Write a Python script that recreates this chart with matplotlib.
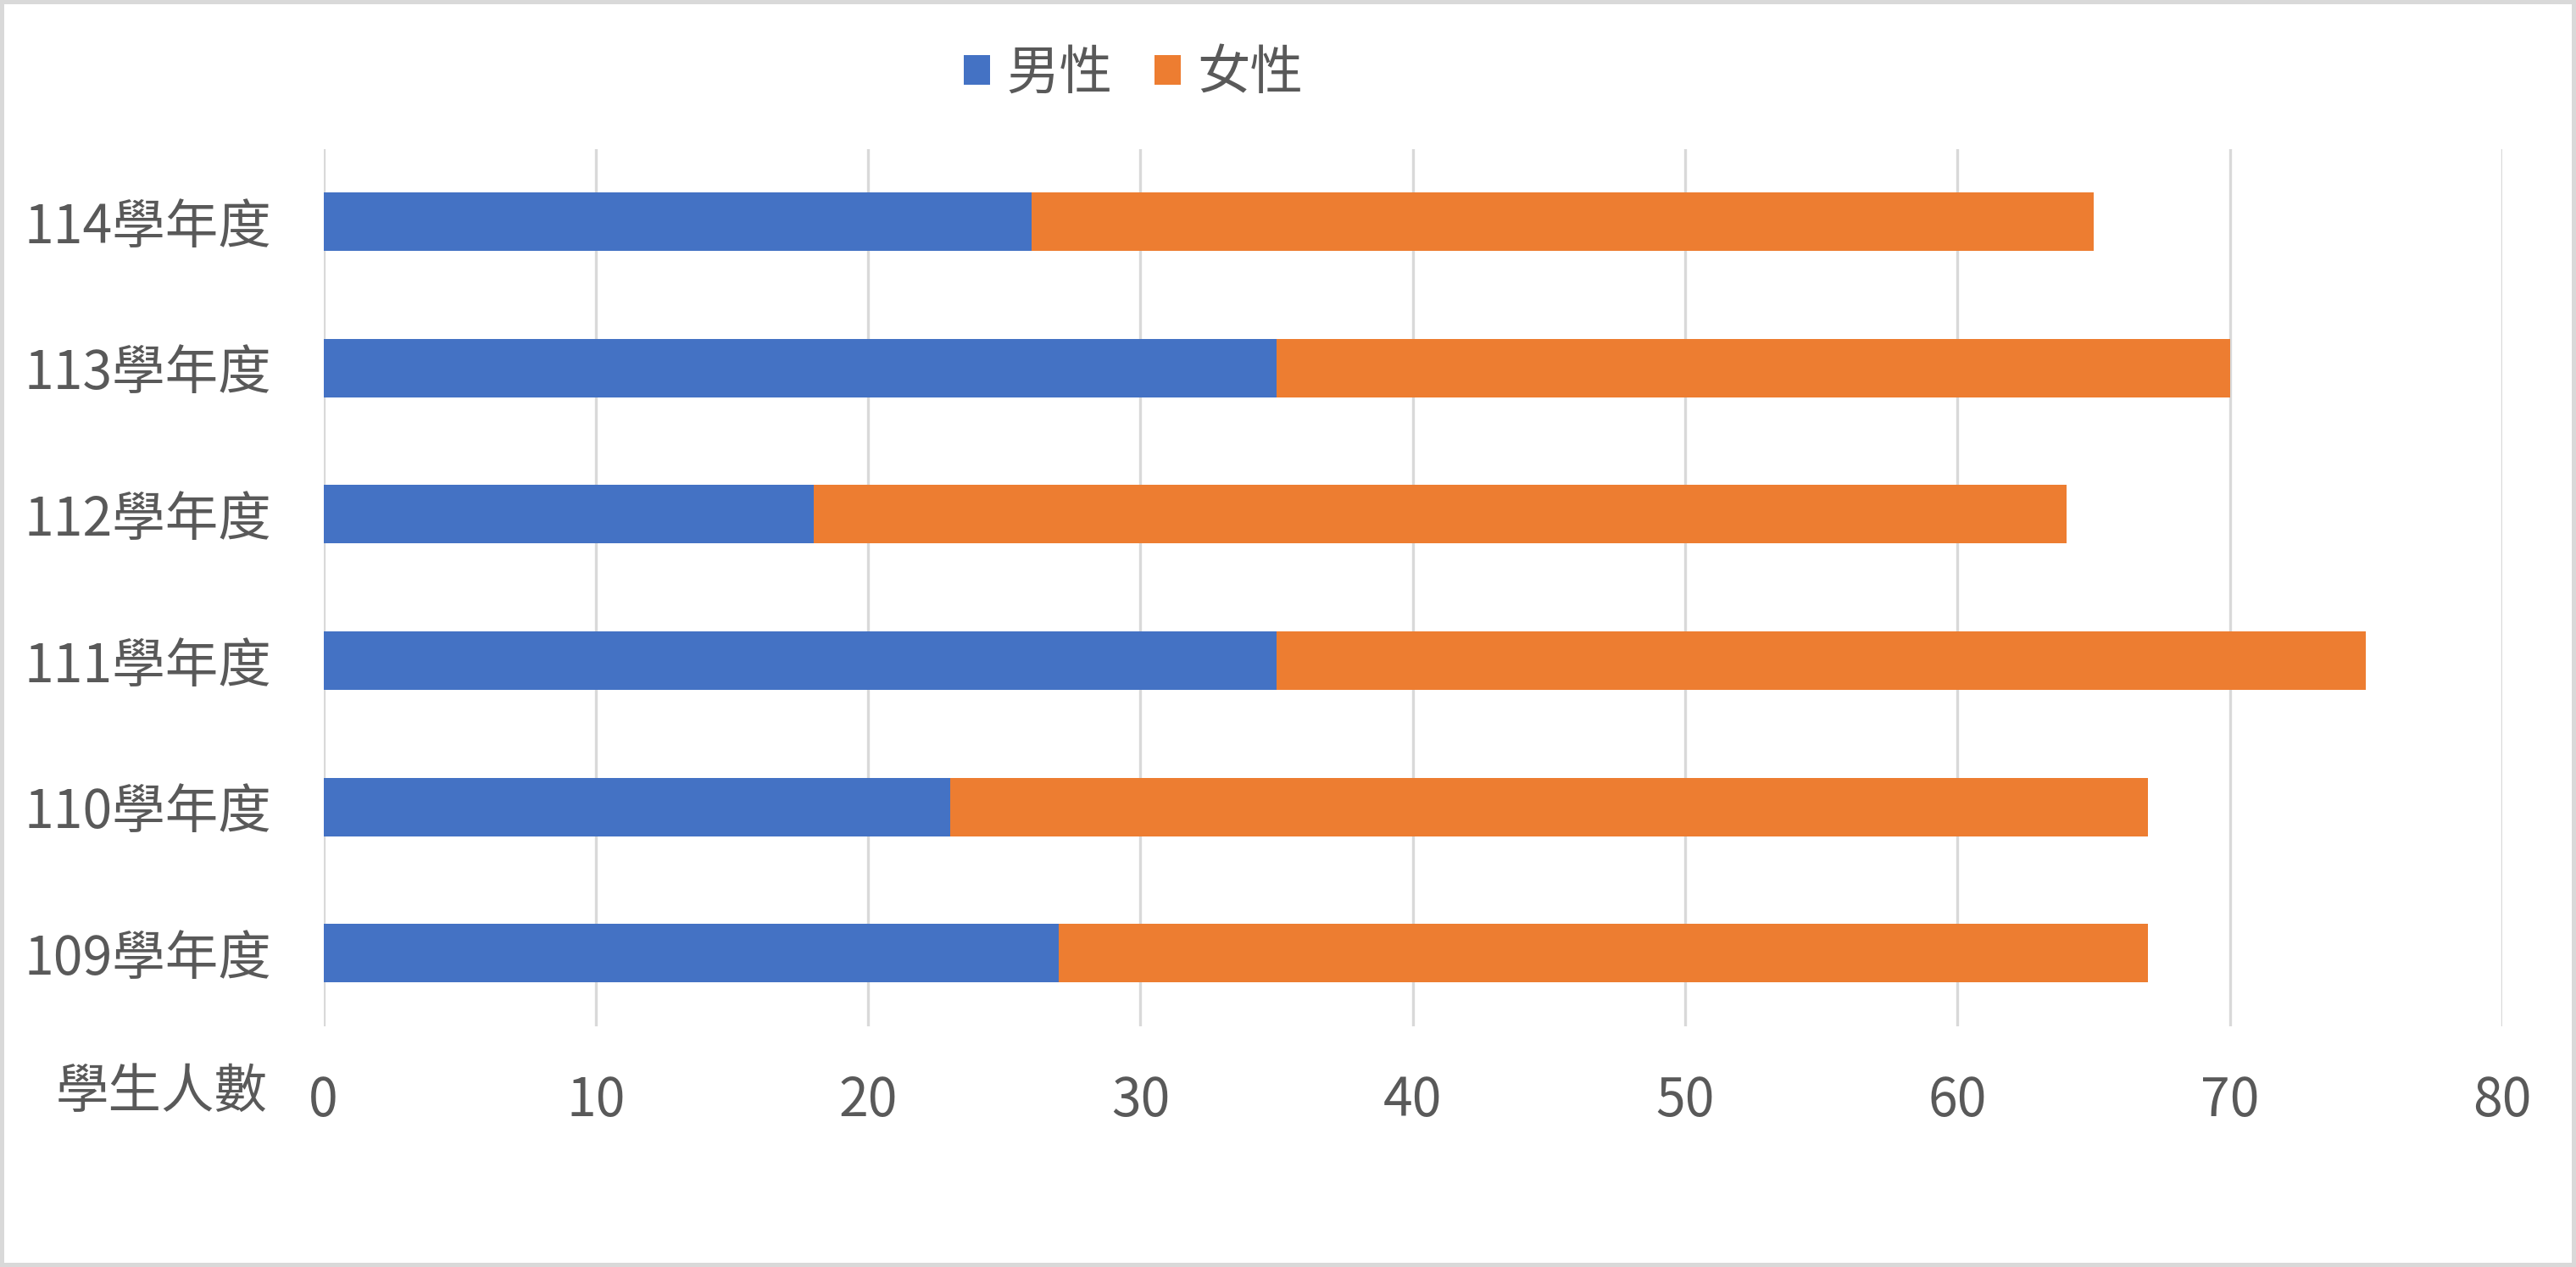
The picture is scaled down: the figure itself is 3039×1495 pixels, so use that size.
import matplotlib.pyplot as plt
import numpy as np

years = ["109學年度", "110學年度", "111學年度", "112學年度", "113學年度", "114學年度"]
male = [27, 23, 35, 18, 35, 26]
female = [40, 44, 40, 46, 35, 39]
xticks = [0, 10, 20, 30, 40, 50, 60, 70, 80]

plt.rcParams['font.family'] = ['Noto Sans CJK TC', 'DejaVu Sans']
grey = "#595959"
fs = 22.5

fig = plt.figure(figsize=(15.195, 7.475), dpi=200, edgecolor="#d9d9d9", linewidth=3)
ax = fig.add_axes([0.1256, 0.19, 0.9713 - 0.1256, 0.8826 - 0.19])

y = np.arange(len(years))
ax.barh(y, male, height=0.4, color="#4472C4", label="男性")
ax.barh(y, female, left=male, height=0.4, color="#ED7D31", label="女性")

ax.set_xlim(0, 80)
ax.set_ylim(-0.5, len(years) - 0.5)
ax.set_xticks(xticks)
ax.set_yticks(y)
ax.set_yticklabels(years)
ax.grid(axis="x", color="#d9d9d9", linewidth=1.2)
ax.set_axisbelow(True)
for s in ax.spines.values():
    s.set_visible(False)
ax.tick_params(axis="x", length=0, pad=20, labelsize=fs, labelcolor=grey)
ax.tick_params(axis="y", length=0, pad=22, labelsize=fs, labelcolor=grey)

fig.text(0.104, 0.1375, "學生人數", ha="right", va="center", fontsize=fs, color=grey)

fig.legend(loc="center", bbox_to_anchor=(0.44, 0.942), ncol=2, frameon=False,
           fontsize=fs, labelcolor=grey, handlelength=0.5, handleheight=0.5,
           handletextpad=0.3, columnspacing=0.8)

fig.savefig("out.png", dpi=200)
